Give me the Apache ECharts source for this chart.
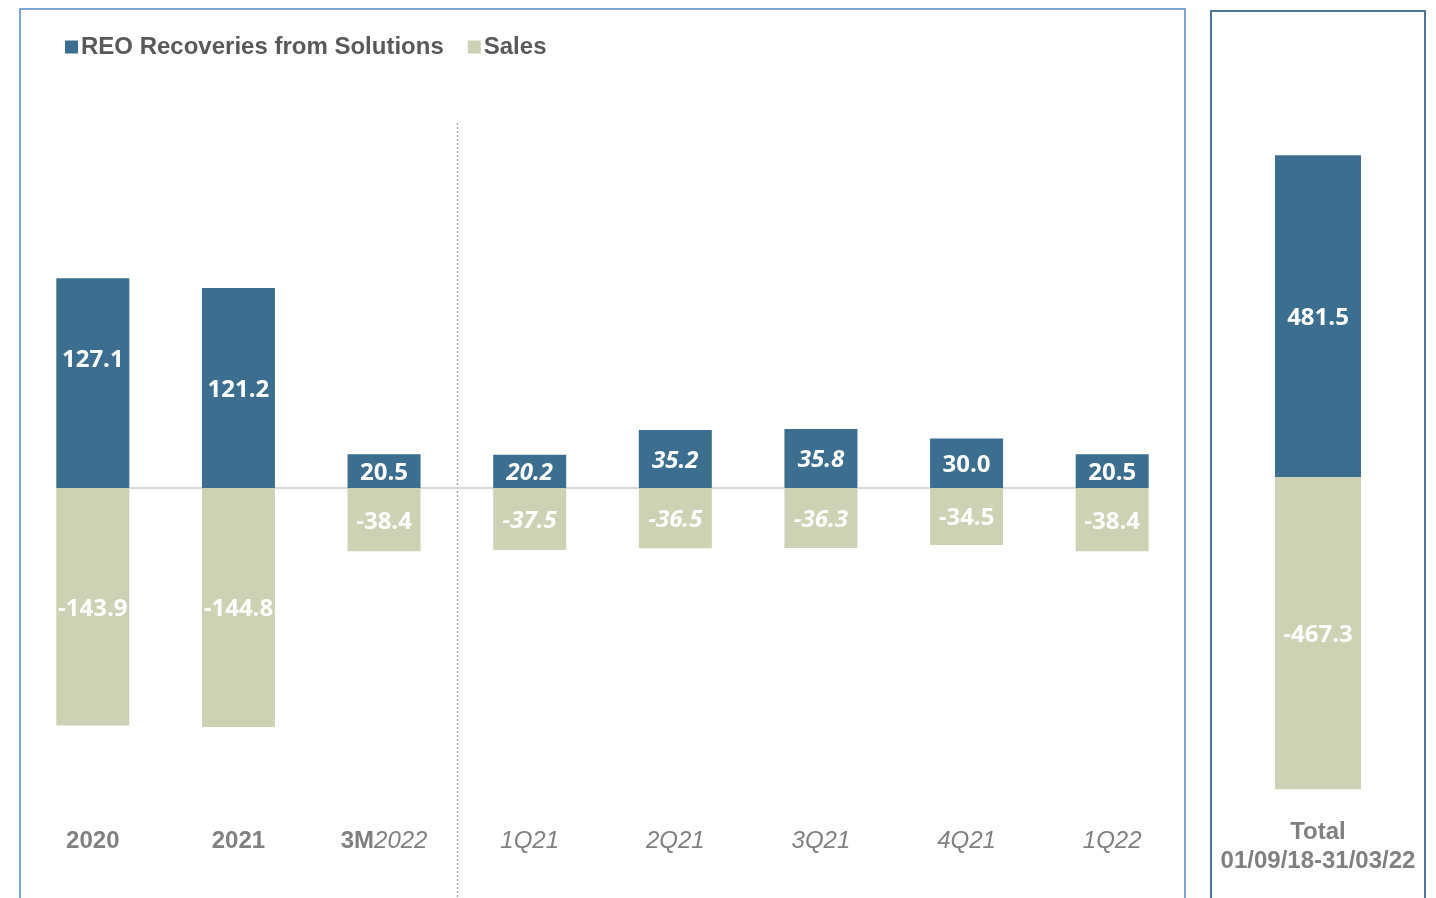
<!DOCTYPE html>
<html>
<head>
<meta charset="utf-8">
<script src="https://cdn.jsdelivr.net/npm/echarts@6/dist/echarts.min.js"></script>
<style>
  html, body { margin: 0; padding: 0; background: #ffffff; }
  #chart { width: 1436px; height: 898px; }
</style>
</head>
<body>
<div id="chart"></div>
<script>
// Periods and values (EUR m)
const categories = ['2020', '2021', '3M2022', '1Q21', '2Q21', '3Q21', '4Q21', '1Q22'];
const reoRecoveries = [127.1, 121.2, 20.5, 20.2, 35.2, 35.8, 30.0, 20.5];
const sales = [-143.9, -144.8, -38.4, -37.5, -36.5, -36.3, -34.5, -38.4];

const totalCategory = ['Total\n01/09/18-31/03/22'];
const totalReo = [481.5];
const totalSales = [-467.3];

const seriesNames = ['REO Recoveries from Solutions', 'Sales'];

// Quarters whose value labels are set in italics
const italicPeriods = ['1Q21', '2Q21', '3Q21'];

const BLUE = '#3c6e8f';
const KHAKI = '#ced1b4';
const AXIS_GREY = '#808080';
const LABEL_FONT = '"Open Sans", "Noto Sans", sans-serif';
const AXIS_FONT = '"Liberation Sans", Arial, sans-serif';
const LABEL_SIZE = 24;
const AXIS_SIZE = 24;

function valueLabel(cat) {
  return {
    show: true,
    position: 'inside',
    color: '#ffffff',
    fontFamily: LABEL_FONT,
    fontWeight: 'bold',
    fontSize: LABEL_SIZE,
    fontStyle: italicPeriods.includes(cat) ? 'italic' : 'normal',
    offset: [0, 2],
    formatter: p => p.value.toFixed(1)
  };
}

function barData(values, shiftFirst) {
  return values.map((v, i) => {
    const item = { value: v, label: valueLabel(categories[i]) };
    if (shiftFirst && i === 0) item.label.offset = [0, -23];
    return item;
  });
}

const chart = echarts.init(document.getElementById('chart'), null, { renderer: 'canvas' });

const totalLabel = {
  show: true, position: 'inside', color: '#ffffff',
  fontFamily: LABEL_FONT, fontWeight: 'bold', fontSize: LABEL_SIZE,
  offset: [0, 2],
  formatter: p => p.value.toFixed(1)
};

const option = {
  backgroundColor: '#ffffff',
  animation: false,
  legend: {
    left: 60,
    top: 30,
    itemWidth: 13,
    itemHeight: 13,
    itemGap: 24,
    icon: 'rect',
    data: seriesNames,
    textStyle: {
      fontFamily: AXIS_FONT,
      fontWeight: 'bold',
      fontSize: 24,
      color: '#595959',
      padding: [0, 0, 0, -2]
    }
  },
  grid: [
    { left: 20, width: 1165, top: 75.5, height: 742.5 },
    { left: 1211, width: 214, top: 76.2, height: 734.8 }
  ],
  xAxis: [
    {
      type: 'category',
      gridIndex: 0,
      data: categories,
      position: 'bottom',
      axisLine: { show: false, onZero: false },
      axisTick: { show: false },
      axisLabel: {
        interval: 0,
        margin: 11,
        fontFamily: AXIS_FONT,
        fontSize: AXIS_SIZE,
        color: AXIS_GREY,
        formatter: v => {
          if (v === '3M2022') return '{b|3M}{i|2022}';
          if (/^\d{4}$/.test(v)) return '{b|' + v + '}';
          return '{i|' + v + '}';
        },
        rich: {
          b: { fontFamily: AXIS_FONT, fontSize: AXIS_SIZE, fontWeight: 'bold', color: AXIS_GREY },
          i: { fontFamily: AXIS_FONT, fontSize: AXIS_SIZE, fontStyle: 'italic', color: AXIS_GREY }
        }
      }
    },
    {
      type: 'category',
      gridIndex: 1,
      data: totalCategory,
      position: 'bottom',
      axisLine: { show: false, onZero: false },
      axisTick: { show: false },
      axisLabel: {
        interval: 0,
        margin: 7,
        fontFamily: AXIS_FONT,
        fontSize: AXIS_SIZE,
        fontWeight: 'bold',
        lineHeight: 29,
        color: AXIS_GREY
      }
    }
  ],
  yAxis: [
    { type: 'value', gridIndex: 0, min: -200, max: 250, show: false },
    { type: 'value', gridIndex: 1, min: -500, max: 600, show: false }
  ],
  series: [
    {
      name: seriesNames[0],
      type: 'bar',
      xAxisIndex: 0,
      yAxisIndex: 0,
      stack: 'main',
      barWidth: 73,
      itemStyle: { color: BLUE },
      data: barData(reoRecoveries, true),
      // zero line running from the first to the last period
      markLine: {
        silent: true,
        symbol: 'none',
        label: { show: false },
        lineStyle: { color: '#d9d9d9', width: 2, type: 'solid' },
        data: [[
          { coord: [categories[0], 0] },
          { coord: [categories[categories.length - 1], 0] }
        ]],
        z: 1
      },
      z: 3
    },
    {
      name: seriesNames[1],
      type: 'bar',
      xAxisIndex: 0,
      yAxisIndex: 0,
      stack: 'main',
      barWidth: 73,
      itemStyle: { color: KHAKI },
      data: barData(sales, false),
      z: 3
    },
    {
      name: seriesNames[0],
      type: 'bar',
      xAxisIndex: 1,
      yAxisIndex: 1,
      stack: 'total',
      barWidth: 86,
      itemStyle: { color: BLUE },
      label: totalLabel,
      data: totalReo
    },
    {
      name: seriesNames[1],
      type: 'bar',
      xAxisIndex: 1,
      yAxisIndex: 1,
      stack: 'total',
      barWidth: 86,
      itemStyle: { color: KHAKI },
      label: totalLabel,
      data: totalSales
    }
  ]
};

chart.setOption(option);

// Panel frames and the divider between annual and quarterly figures
const xLast = chart.convertToPixel({ xAxisIndex: 0 }, categories[2]);
const xNext = chart.convertToPixel({ xAxisIndex: 0 }, categories[3]);
const dividerX = Math.round((xLast + xNext) / 2) + 0.5;

chart.setOption({
  graphic: [
    {
      type: 'rect',
      shape: { x: 20, y: 9, width: 1165, height: 900 },
      style: { fill: 'none', stroke: '#7ea6d8', lineWidth: 2 },
      silent: true,
      z: 0
    },
    {
      type: 'rect',
      shape: { x: 1211, y: 11, width: 214, height: 900 },
      style: { fill: 'none', stroke: '#4f7598', lineWidth: 2 },
      silent: true,
      z: 0
    },
    {
      type: 'line',
      shape: { x1: dividerX, y1: 123, x2: dividerX, y2: 898 },
      style: { stroke: '#a6a6a6', lineWidth: 1.5, lineDash: [2, 2] },
      silent: true,
      z: 0
    }
  ]
});
</script>
</body>
</html>
